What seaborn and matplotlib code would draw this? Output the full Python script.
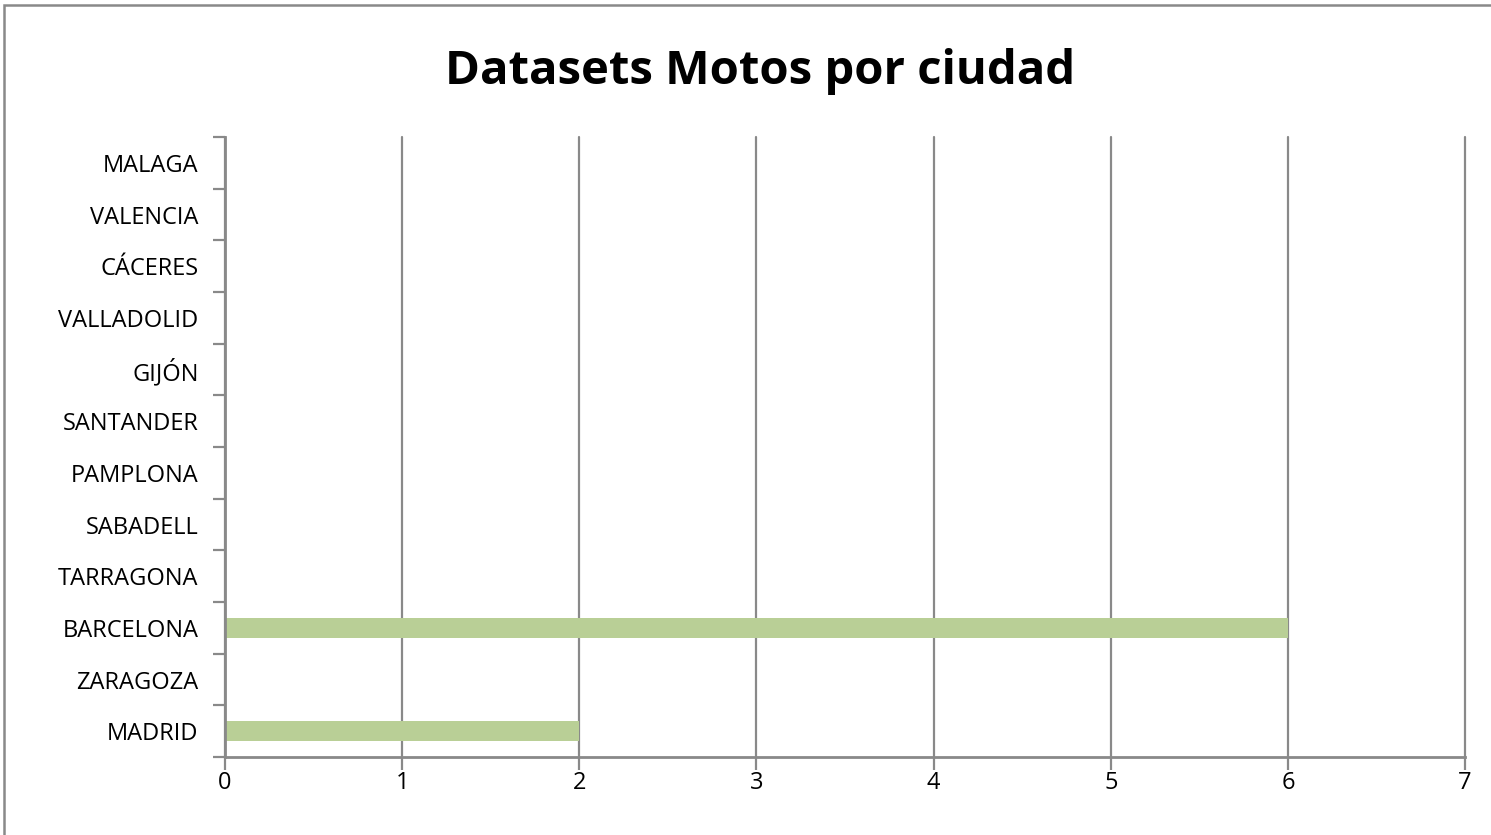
import numpy as np
import pandas as pd
import seaborn as sns
import matplotlib.pyplot as plt
from matplotlib.patches import Rectangle

# ciudades de arriba a abajo
ciudades = ["MALAGA", "VALENCIA", "CÁCERES", "VALLADOLID", "GIJÓN", "SANTANDER",
            "PAMPLONA", "SABADELL", "TARRAGONA", "BARCELONA", "ZARAGOZA", "MADRID"]
motos = [0, 0, 0, 0, 0, 0, 0, 0, 0, 6, 0, 2]
x_ticks = [0, 1, 2, 3, 4, 5, 6, 7]

df = pd.DataFrame({"ciudad": ciudades, "motos": motos})

sns.set_style("white")
plt.rcParams["font.family"] = ["Open Sans", "DejaVu Sans"]
plt.rcParams["text.color"] = "black"
plt.rcParams["xtick.labelcolor"] = "black"
plt.rcParams["ytick.labelcolor"] = "black"

gris = "#898989"
fig = plt.figure(figsize=(14.91, 8.35), dpi=100)
ax = fig.add_axes([0.1509, 0.0934, 0.9826 - 0.1509, 0.8359 - 0.0934])

sns.barplot(data=df, x="motos", y="ciudad", order=ciudades, orient="h",
            color="#B9CF96", width=0.39, saturation=1, linewidth=0, ax=ax)

ax.set_xlim(0, 7)
ax.set_xticks(x_ticks)
ax.set_xticklabels([str(t) for t in x_ticks], fontsize=17)
ax.xaxis.grid(True, color=gris, linewidth=1.6, clip_on=False)
ax.set_axisbelow(True)

n = len(ciudades)
ax.set_ylim(n - 0.5, -0.5)
ax.set_yticks(np.arange(-0.5, n, 1.0))
ax.set_yticklabels([])
ax.set_yticks(np.arange(n), minor=True)
ax.set_yticklabels(ciudades, minor=True, fontsize=17)
ax.tick_params(axis="y", which="minor", length=0, pad=19)
ax.tick_params(axis="y", which="major", length=9, width=1.6, color=gris, direction="out", left=True)
ax.tick_params(axis="x", length=9, width=1.6, color=gris, direction="out", bottom=True, pad=1)

for s in ["top", "right"]:
    ax.spines[s].set_visible(False)
for s in ["left", "bottom"]:
    ax.spines[s].set_color(gris)
    ax.spines[s].set_linewidth(2)

ax.set_xlabel("")
ax.set_ylabel("")

fig.text(0.51, 0.914, "Datasets Motos por ciudad", ha="center", va="center",
         fontsize=34, fontweight="bold")

fig.patches.append(Rectangle((4 / 1491, -0.1), 1.2, 1 - 5 / 835 + 0.1,
                             transform=fig.transFigure, fill=False,
                             edgecolor=gris, linewidth=1.8))

fig.savefig("out.png", dpi=100)
